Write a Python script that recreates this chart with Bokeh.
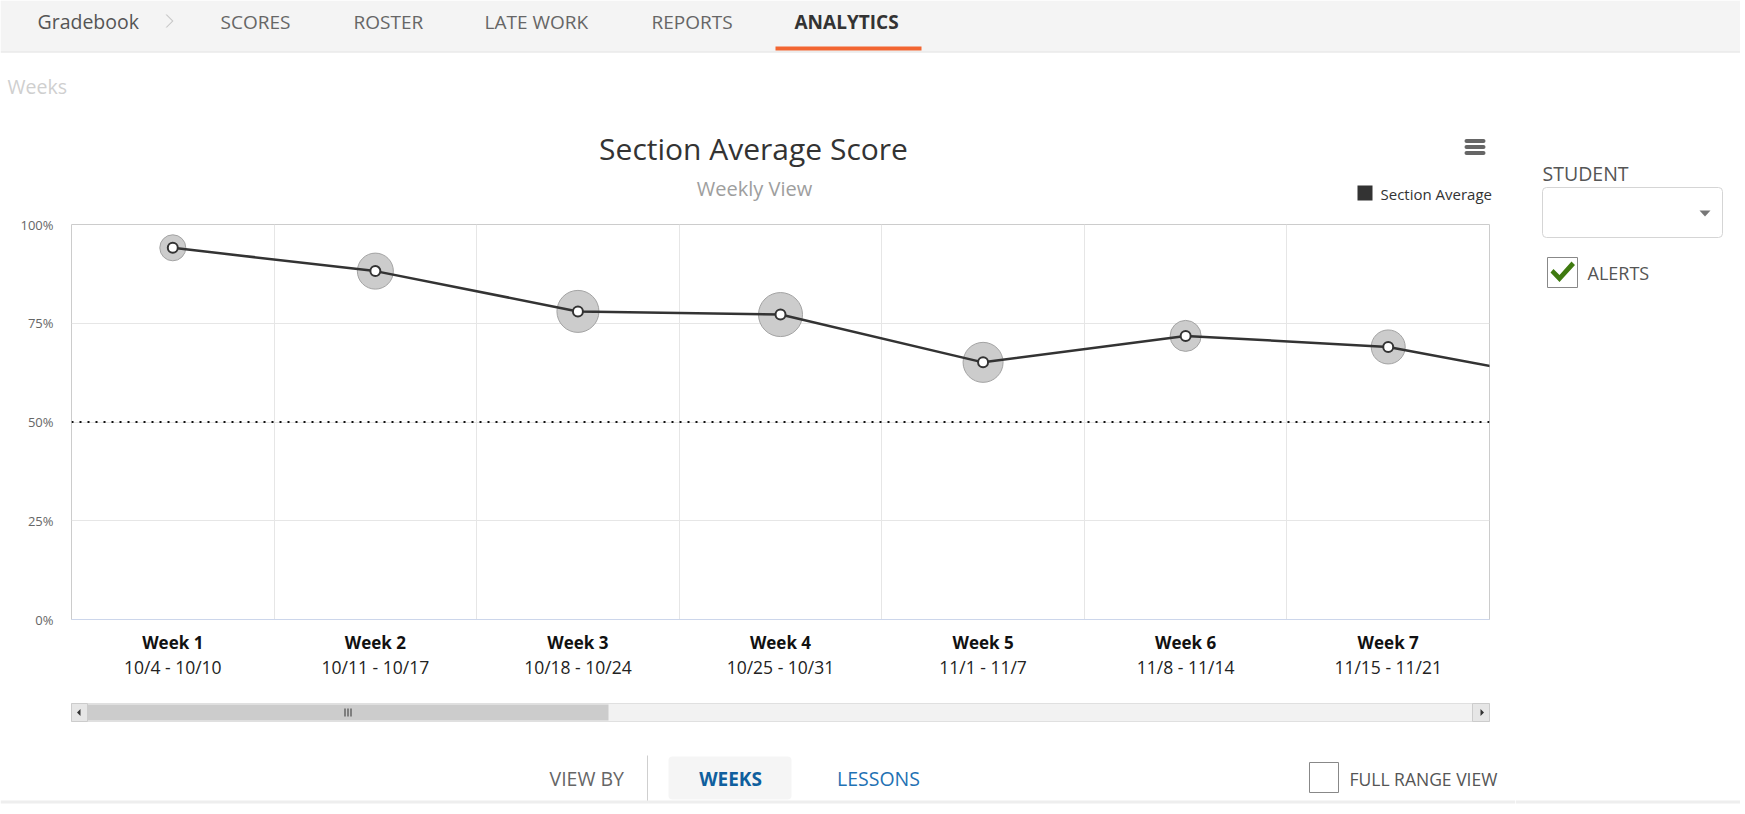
from bokeh.plotting import figure
from bokeh.layouts import column, row
from bokeh.models import (FixedTicker, LinearAxis, Span, ColumnDataSource, Range1d, Grid)
from bokeh.core.properties import value
from bokeh.embed import file_html
from bokeh.resources import INLINE

# ---------------- data ----------------
weeks = ["Week 1", "Week 2", "Week 3", "Week 4", "Week 5", "Week 6", "Week 7", "Week 8"]
date_ranges = ["10/4 - 10/10", "10/11 - 10/17", "10/18 - 10/24", "10/25 - 10/31",
               "11/1 - 11/7", "11/8 - 11/14", "11/15 - 11/21", "11/22 - 11/28"]
section_avg = [94.1, 88.2, 78.0, 77.2, 65.1, 71.8, 69.0, 59.4]
score_spread = [13, 18, 21, 22, 20, 15.5, 17, 17]
alert_threshold = 50
y_ticks = [0, 25, 50, 75, 100]
y_tick_labels = ["0%", "25%", "50%", "75%", "100%"]
visible_weeks = 7

nav_items = ["SCORES", "ROSTER", "LATE WORK", "REPORTS", "ANALYTICS"]

FONT = "Open Sans"
TOTAL_W = 1740
LEFT_W, RIGHT_W = 1515, 225


# ---------------- helpers for the page chrome ----------------
def ui_fig(x0, y0, w, h):
    f = figure(width=w, height=h, output_backend="svg", toolbar_location=None, title=None,
               x_range=Range1d(x0, x0 + w), y_range=Range1d(y0 + h, y0),
               min_border=0, x_axis_location=None, y_axis_location=None)
    f.frame_align = False
    for r in list(f.center):
        r.visible = False
    f.outline_line_color = None
    f.background_fill_color = "white"
    f.border_fill_color = "white"
    return f


def txt(f, t, x, y, size, color, align="left", bold=False):
    f.text(x=[x], y=[y], text=[t], text_font=value(FONT), text_font_size=value(f"{size}px"),
           text_color=color, text_align=align, text_baseline="middle",
           text_font_style="bold" if bold else "normal")


def rect(f, x0, y0, x1, y1, fill, line=None, radius=0, lw=1):
    f.quad(left=[x0], right=[x1], top=[y0], bottom=[y1], fill_color=fill,
           line_color=line, line_width=lw, border_radius=radius)


def poly(f, pts, fill):
    f.patch(x=[a for a, b in pts], y=[b for a, b in pts], fill_color=fill, line_color=None)


# ---------------- nav bar ----------------
nav = ui_fig(0, 0, TOTAL_W, 60)
rect(nav, 0, 0, TOTAL_W, 51, "#f4f4f4")
rect(nav, 0, 51, TOTAL_W, 52, "#e0e0e0")
txt(nav, "Gradebook", 37, 21, 19.5, "#555555")
poly(nav, [(165, 14), (166.5, 14), (173, 20.5), (166.5, 27), (165, 27), (171.5, 20.5)], "#c8c8c8")
nav_x = [220, 353, 484, 651, 794]
for lbl, nx in zip(nav_items, nav_x):
    if lbl == "ANALYTICS":
        txt(nav, lbl, nx, 21, 19, "#333333", bold=True)
    else:
        txt(nav, lbl, nx, 21, 19, "#666666")
rect(nav, 775, 46, 921, 50, "#f26531")

# ---------------- chart header ----------------
head = ui_fig(0, 60, LEFT_W, 154)
txt(head, "Weeks", 7, 86, 19.5, "#cfcfcf")
txt(head, "Section Average Score", 753, 148, 30, "#333333", align="center")
txt(head, "Weekly View", 754, 188, 20, "#9e9e9e", align="center")
for y0 in (138.5, 144.5, 150.5):
    rect(head, 1464, y0, 1485, y0 + 4, "#666666", radius=2)
rect(head, 1357, 185, 1372, 200, "#333333")
txt(head, "Section Average", 1380, 193, 15, "#333333")

# ---------------- chart ----------------
FL, FT, FR, FB = 71, 224, 1489, 619
CH_TOP, CH_BOT = 214, 690
x_pos = list(range(1, len(weeks) + 1))

p = figure(width=LEFT_W, height=CH_BOT - CH_TOP, output_backend="svg", toolbar_location=None,
           title=None, x_range=Range1d(0.5, visible_weeks + 0.5), y_range=Range1d(0, 100),
           min_border_left=FL, min_border_right=LEFT_W - FR, min_border_top=FT - CH_TOP,
           min_border_bottom=CH_BOT - FB, x_axis_location=None, y_axis_location=None)
p.frame_align = False
for r in list(p.center):
    r.visible = False
p.background_fill_color = "white"
p.border_fill_color = "white"
p.outline_line_color = "#cccccc"
p.outline_line_width = 1

yax = LinearAxis(ticker=FixedTicker(ticks=y_ticks),
                 major_label_overrides=dict(zip(y_ticks, y_tick_labels)))
yax.axis_line_color = None
yax.major_tick_line_color = None
yax.minor_tick_line_color = None
yax.major_tick_out = 0
yax.major_tick_in = 0
yax.major_label_standoff = 18
yax.major_label_text_font = FONT
yax.major_label_text_font_size = "13px"
yax.major_label_text_color = "#666666"
p.add_layout(yax, "left")

xax1 = LinearAxis(ticker=FixedTicker(ticks=x_pos),
                  major_label_overrides=dict(zip(x_pos, weeks)))
xax1.axis_line_color = "#ccd6eb"
xax1.axis_line_width = 1
xax1.major_tick_line_color = None
xax1.minor_tick_line_color = None
xax1.major_tick_out = 0
xax1.major_tick_in = 0
xax1.major_label_standoff = 11
xax1.major_label_text_font = FONT
xax1.major_label_text_font_size = "17px"
xax1.major_label_text_font_style = "bold"
xax1.major_label_text_color = "#111111"
p.add_layout(xax1, "below")

xax2 = LinearAxis(ticker=FixedTicker(ticks=x_pos),
                  major_label_overrides=dict(zip(x_pos, date_ranges)))
xax2.axis_line_color = None
xax2.major_tick_line_color = None
xax2.minor_tick_line_color = None
xax2.major_tick_out = 0
xax2.major_tick_in = 0
xax2.major_label_standoff = -2
xax2.major_label_text_font = FONT
xax2.major_label_text_font_size = "17.5px"
xax2.major_label_text_color = "#222222"
p.add_layout(xax2, "below")

p.add_layout(Grid(dimension=0, ticker=FixedTicker(ticks=[x + 0.5 for x in x_pos[:-1]]),
                  grid_line_color="#e6e6e6", grid_line_width=1))
p.add_layout(Grid(dimension=1, ticker=FixedTicker(ticks=y_ticks[1:-1]),
                  grid_line_color="#e6e6e6", grid_line_width=1))

p.add_layout(Span(location=alert_threshold, dimension="width", line_color="#111111",
                  line_width=2, line_dash="2 6"))

src = ColumnDataSource(dict(x=x_pos, y=section_avg, halo=[2 * s for s in score_spread]))
p.scatter("x", "y", size="halo", source=src, fill_color="#cccccc", fill_alpha=1,
          line_color="#a3a3a3", line_width=1)
p.line("x", "y", source=src, line_color="#333333", line_width=2.5)
p.scatter("x", "y", size=10, source=src, fill_color="white", line_color="#333333",
          line_width=2)

# ---------------- scrollbar + bottom controls ----------------
bot = ui_fig(0, CH_BOT, LEFT_W, 120)
rect(bot, 71, 703, 1489, 721, "#f2f2f2", line="#e0e0e0")
rect(bot, 71, 703, 87, 721, "#e6e6e6", line="#cccccc")
rect(bot, 1472, 703, 1489, 721, "#e6e6e6", line="#cccccc")
poly(bot, [(76.5, 712), (80, 708.5), (80, 715.5)], "#333333")
poly(bot, [(1483.5, 712), (1480, 708.5), (1480, 715.5)], "#333333")
rect(bot, 87, 704, 608, 720, "#cccccc")
for gx in (344, 347, 350):
    rect(bot, gx, 708, gx + 1, 716, "#333333")
txt(bot, "VIEW BY", 549, 778, 19.5, "#666666")
rect(bot, 646.5, 755, 647.5, 801, "#cfcfcf")
rect(bot, 668, 756, 791, 799, "#f5f5f5", radius=4)
txt(bot, "WEEKS", 730, 778, 19, "#0f5f9e", align="center", bold=True)
txt(bot, "LESSONS", 878, 778, 19.5, "#1f72b4", align="center")
rect(bot, 1309, 762, 1338, 792, "white", line="#888888")
txt(bot, "FULL RANGE VIEW", 1349, 778, 17.5, "#555555")
rect(bot, 0, 800, LEFT_W, 803, "#eeeeee")

# ---------------- right panel ----------------
side = ui_fig(LEFT_W, 60, RIGHT_W, 750)
txt(side, "STUDENT", 1542, 173, 19.5, "#555555")
rect(side, 1542, 187, 1722, 237, "white", line="#d5d5d5", radius=4)
poly(side, [(1699, 210), (1710, 210), (1704.5, 216)], "#777777")
rect(side, 1547, 257, 1577, 287, "white", line="#888888")
poly(side, [(1550, 272), (1553, 268.5), (1559, 274.5), (1571, 261), (1574.5, 264.5),
            (1559, 281.5)], "#3f7a10")
txt(side, "ALERTS", 1587, 272, 18, "#555555")
rect(side, LEFT_W, 800, TOTAL_W, 803, "#eeeeee")

layout = column(nav, row(column(head, p, bot), side))
open("out.html", "w").write(file_html(layout, INLINE))
